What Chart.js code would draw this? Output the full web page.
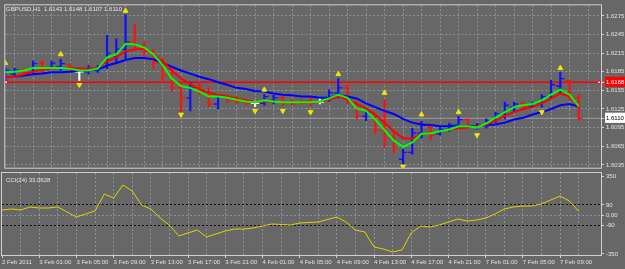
<!DOCTYPE html>
<html>
<head>
<meta charset="utf-8">
<script src="https://cdn.jsdelivr.net/npm/chart.js@4.4.1/dist/chart.umd.min.js"></script>
<style>
  body { margin: 0; background: #676767; width: 625px; height: 269px; overflow: hidden; position: relative; font-family: 'Liberation Sans', Arial, sans-serif; }
  canvas { position: absolute; left: 0; }
  #main { top: 0; }
  #cci { top: 172px; }
  .lbl { position: absolute; color: #e6e6e6; font-size: 6px; line-height: 6px; white-space: pre; }
</style>
</head>
<body>
<canvas id="main" width="625" height="173"></canvas>
<canvas id="cci" width="625" height="97"></canvas>
<div class="lbl" style="left:6px;top:6px">GBPUSD,H1  1.6143 1.6148 1.6107 1.6110</div>
<div class="lbl" style="left:6px;top:177px">CCI(24) 33.0628</div>
<script>
// time labels, one every 4 hourly bars (bar 0 = 2 Feb 21:00)
const timeLabels = ['2 Feb 2011', '3 Feb 01:00', '3 Feb 05:00', '3 Feb 09:00', '3 Feb 13:00', '3 Feb 17:00',
  '3 Feb 21:00', '4 Feb 01:00', '4 Feb 05:00', '4 Feb 09:00', '4 Feb 13:00', '4 Feb 17:00',
  '4 Feb 21:00', '7 Feb 01:00', '7 Feb 05:00', '7 Feb 09:00'];

const open = [1.6176, 1.6181, 1.6188, 1.6184, 1.6198, 1.6191, 1.6193, 1.6196, 1.6185, 1.6185,
  1.6187, 1.6193, 1.6210, 1.6221, 1.6233, 1.6227, 1.6218, 1.6199, 1.6179, 1.6159,
  1.6143, 1.6159, 1.6153, 1.6133, 1.6145, 1.6139, 1.6137, 1.6134, 1.6134, 1.6139,
  1.6143, 1.6136, 1.6136, 1.6137, 1.6136, 1.6139, 1.6151, 1.6159, 1.6136, 1.6113,
  1.6113, 1.6091, 1.6078, 1.6044, 1.6055, 1.6086, 1.6095, 1.6085, 1.6092, 1.6099,
  1.6108, 1.6095, 1.6099, 1.6106, 1.6117, 1.6128, 1.6134, 1.6129, 1.6133, 1.6145,
  1.6162, 1.6171, 1.6143];
const high = [1.6191, 1.6191, 1.6190, 1.6202, 1.6202, 1.6202, 1.6205, 1.6198, 1.6188, 1.6195,
  1.6195, 1.6244, 1.6238, 1.6277, 1.6261, 1.6233, 1.6221, 1.6207, 1.6191, 1.6167,
  1.6167, 1.6167, 1.6159, 1.6148, 1.6148, 1.6145, 1.6140, 1.6139, 1.6148, 1.6147,
  1.6145, 1.6140, 1.6140, 1.6143, 1.6142, 1.6156, 1.6174, 1.6164, 1.6137, 1.6122,
  1.6114, 1.6140, 1.6089, 1.6060, 1.6094, 1.6105, 1.6097, 1.6095, 1.6102, 1.6113,
  1.6109, 1.6102, 1.6109, 1.6120, 1.6136, 1.6136, 1.6136, 1.6136, 1.6148, 1.6171,
  1.6184, 1.6171, 1.6148];
const low = [1.6171, 1.6177, 1.6181, 1.6181, 1.6184, 1.6190, 1.6187, 1.6185, 1.6171, 1.6181,
  1.6184, 1.6190, 1.6198, 1.6205, 1.6221, 1.6208, 1.6190, 1.6171, 1.6153, 1.6120,
  1.6122, 1.6148, 1.6129, 1.6125, 1.6136, 1.6134, 1.6131, 1.6129, 1.6131, 1.6133,
  1.6131, 1.6131, 1.6133, 1.6129, 1.6133, 1.6137, 1.6143, 1.6133, 1.6109, 1.6106,
  1.6086, 1.6063, 1.6055, 1.6037, 1.6052, 1.6078, 1.6075, 1.6083, 1.6089, 1.6097,
  1.6094, 1.6092, 1.6094, 1.6103, 1.6109, 1.6120, 1.6126, 1.6128, 1.6128, 1.6143,
  1.6151, 1.6140, 1.6107];
const close = [1.6187, 1.6188, 1.6184, 1.6198, 1.6190, 1.6199, 1.6198, 1.6188, 1.6185, 1.6190,
  1.6191, 1.6215, 1.6221, 1.6233, 1.6227, 1.6218, 1.6199, 1.6179, 1.6159, 1.6143,
  1.6159, 1.6153, 1.6133, 1.6145, 1.6139, 1.6137, 1.6134, 1.6134, 1.6145, 1.6143,
  1.6134, 1.6133, 1.6134, 1.6134, 1.6136, 1.6151, 1.6159, 1.6140, 1.6114, 1.6119,
  1.6091, 1.6078, 1.6063, 1.6055, 1.6086, 1.6099, 1.6082, 1.6092, 1.6099, 1.6108,
  1.6097, 1.6099, 1.6106, 1.6117, 1.6131, 1.6133, 1.6129, 1.6134, 1.6145, 1.6164,
  1.6174, 1.6143, 1.6110];

// moving averages: fast (green), medium (red), slow (blue)
const maFast = [1.6184, 1.6185, 1.6187, 1.6191, 1.6191, 1.6191, 1.6191, 1.6190, 1.6187, 1.6187,
  1.6190, 1.6208, 1.6213, 1.6230, 1.6229, 1.6224, 1.6213, 1.6196, 1.6174, 1.6162,
  1.6159, 1.6153, 1.6145, 1.6145, 1.6143, 1.6140, 1.6137, 1.6136, 1.6139, 1.6137,
  1.6136, 1.6136, 1.6136, 1.6136, 1.6137, 1.6142, 1.6148, 1.6143, 1.6126, 1.6122,
  1.6108, 1.6091, 1.6074, 1.6064, 1.6071, 1.6085, 1.6086, 1.6089, 1.6092, 1.6097,
  1.6097, 1.6095, 1.6102, 1.6111, 1.6120, 1.6128, 1.6131, 1.6133, 1.6139, 1.6148,
  1.6156, 1.6148, 1.6129];
const maMid = [1.6176, 1.6177, 1.6181, 1.6185, 1.6188, 1.6190, 1.6191, 1.6191, 1.6190, 1.6190,
  1.6191, 1.6202, 1.6208, 1.6218, 1.6221, 1.6222, 1.6213, 1.6202, 1.6187, 1.6174,
  1.6165, 1.6157, 1.6151, 1.6148, 1.6145, 1.6142, 1.6139, 1.6137, 1.6137, 1.6137,
  1.6136, 1.6136, 1.6136, 1.6136, 1.6137, 1.6140, 1.6145, 1.6140, 1.6133, 1.6126,
  1.6116, 1.6103, 1.6089, 1.6078, 1.6077, 1.6085, 1.6086, 1.6089, 1.6092, 1.6094,
  1.6095, 1.6097, 1.6100, 1.6106, 1.6114, 1.6120, 1.6125, 1.6128, 1.6134, 1.6142,
  1.6150, 1.6145, 1.6129];
const maSlow = [1.6176, 1.6177, 1.6179, 1.6181, 1.6182, 1.6184, 1.6184, 1.6185, 1.6187, 1.6187,
  1.6188, 1.6195, 1.6199, 1.6204, 1.6207, 1.6207, 1.6205, 1.6199, 1.6193, 1.6187,
  1.6182, 1.6177, 1.6173, 1.6168, 1.6164, 1.6159, 1.6157, 1.6154, 1.6153, 1.6150,
  1.6148, 1.6147, 1.6145, 1.6145, 1.6143, 1.6143, 1.6147, 1.6145, 1.6142, 1.6134,
  1.6128, 1.6122, 1.6117, 1.6109, 1.6103, 1.6100, 1.6099, 1.6097, 1.6097, 1.6097,
  1.6097, 1.6097, 1.6099, 1.6100, 1.6103, 1.6108, 1.6111, 1.6116, 1.6120, 1.6125,
  1.6131, 1.6133, 1.6129];

// fractals
const upIdx = [0, 6, 13, 28, 36, 41, 45, 49, 60];
const upVal = [1.6199, 1.6213, 1.6283, 1.6156, 1.6181, 1.6151, 1.6116, 1.6120, 1.6191];
const dnIdx = [8, 19, 27, 30, 33, 43, 51, 58];
const dnVal = [1.6164, 1.6116, 1.6122, 1.6122, 1.6120, 1.6032, 1.6083, 1.6120];

const cci = [45, 54, 45, 72, 63, 63, 72, 27, -18, 9,
  36, 188, 152, 269, 215, 90, 54, -27, -90, -188,
  -161, -135, -197, -170, -144, -126, -126, -117, -99, -81,
  -85, -90, -72, -67, -63, -40, -18, -63, -135, -152,
  -287, -305, -332, -314, -161, -99, -108, -90, -63, -36,
  -54, -45, -27, 9, 54, 72, 81, 81, 99, 135,
  170, 126, 33.06];

const priceTicks = [1.6035, 1.6065, 1.6095, 1.6110, 1.6125, 1.6155, 1.6168, 1.6185, 1.6215, 1.6245, 1.6275];
const levelPrice = 1.6168;
const bidPrice = 1.6110;
const cciTicks = [-350, -90, 0, 90, 350];

const X_MAX = 64.4;
const gridColor = '#8a949e';
const textColor = '#e2e2e2';
const font = { family: "'Liberation Sans', Arial, sans-serif", size: 6 };

const idx = close.map((_, i) => i);
const evens = [];
for (let v = 0; v <= 64; v += 2) evens.push(v);
const barColor = idx.map(i => close[i] > open[i] ? '#1010ff' : close[i] < open[i] ? '#ff1010' : '#ffffff');

const frame = {
  id: 'frame',
  afterDraw(chart) {
    const a = chart.chartArea, ctx = chart.ctx;
    ctx.save();
    ctx.strokeStyle = '#d0d0d0';
    ctx.lineWidth = 1;
    ctx.strokeRect(a.left - 0.5, a.top - 0.5, a.right - a.left + 1, a.bottom - a.top + 1);
    ctx.restore();
  }
};

new Chart(document.getElementById('main'), {
  data: {
    datasets: [
      {
        type: 'bar', order: 6,
        data: idx.map(i => ({ x: i, y: [low[i], high[i]] })),
        backgroundColor: barColor, barThickness: 1.5, grouped: false
      },
      {
        type: 'line', order: 5, showLine: false,
        data: idx.map(i => ({ x: i - 0.25, y: open[i] })),
        pointStyle: 'line', pointRadius: 1.8, pointBorderWidth: 1.3, pointBorderColor: barColor
      },
      {
        type: 'line', order: 5, showLine: false,
        data: idx.map(i => ({ x: i + 0.25, y: close[i] })),
        pointStyle: 'line', pointRadius: 1.8, pointBorderWidth: 1.3, pointBorderColor: barColor
      },
      {
        type: 'line', order: 7,
        data: [{ x: 0, y: bidPrice }, { x: X_MAX, y: bidPrice }],
        borderColor: '#9c9c9c', borderWidth: 1, pointRadius: 0
      },
      {
        type: 'line', order: 7,
        data: [{ x: 0.1, y: levelPrice }, { x: 64.2, y: levelPrice }],
        borderColor: '#ff0000', borderWidth: 1.5,
        pointStyle: 'rect', pointRadius: 1.8, pointBackgroundColor: '#ffffff', pointBorderColor: '#ff0000', pointBorderWidth: 1
      },
      {
        type: 'line', order: 3, data: idx.map(i => ({ x: i, y: maSlow[i] })),
        borderColor: '#0000ff', borderWidth: 2, pointRadius: 0
      },
      {
        type: 'line', order: 2, data: idx.map(i => ({ x: i, y: maMid[i] })),
        borderColor: '#ff0000', borderWidth: 2, pointRadius: 0
      },
      {
        type: 'line', order: 1, data: idx.map(i => ({ x: i, y: maFast[i] })),
        borderColor: '#00ff00', borderWidth: 2, pointRadius: 0
      },
      {
        type: 'line', order: 0, showLine: false,
        data: upIdx.map((v, k) => ({ x: v, y: upVal[k] })),
        pointStyle: 'triangle', pointRadius: 2.8, backgroundColor: '#f2e600', borderColor: '#f2e600'
      },
      {
        type: 'line', order: 0, showLine: false,
        data: dnIdx.map((v, k) => ({ x: v, y: dnVal[k] })),
        pointStyle: 'triangle', rotation: 180, pointRadius: 2.8, backgroundColor: '#f2e600', borderColor: '#f2e600'
      }
    ]
  },
  options: {
    responsive: false, animation: false, devicePixelRatio: 1, events: [],
    layout: { padding: { left: 2, top: 2, right: 0, bottom: 1 } },
    plugins: { legend: { display: false }, tooltip: { enabled: false } },
    scales: {
      x: {
        type: 'linear', min: 0, max: X_MAX, offset: false,
        afterBuildTicks: s => { s.ticks = evens.map(v => ({ value: v })); },
        ticks: { display: false },
        grid: { color: c => c.tick && c.tick.value === 0 ? 'transparent' : gridColor, drawTicks: false },
        border: { display: false, dash: [2, 2] },
        afterFit: s => { s.height = 0; s.paddingLeft = 0; s.paddingRight = 0; }
      },
      y: {
        position: 'right', min: 1.60304, max: 1.62920,
        afterBuildTicks: s => { s.ticks = priceTicks.map(v => ({ value: v })); },
        ticks: {
          autoSkip: false, font: font, padding: 2,
          callback: v => v.toFixed(4),
          color: c => c.tick.value === levelPrice ? '#ffffff' : c.tick.value === bidPrice ? '#000000' : textColor,
          showLabelBackdrop: c => c.tick.value === levelPrice || c.tick.value === bidPrice,
          backdropColor: c => c.tick.value === levelPrice ? '#ff0000' : '#ffffff',
          backdropPadding: { top: 2, bottom: 1, left: 1, right: 2 }
        },
        grid: {
          color: c => c.tick && (c.tick.value === levelPrice || c.tick.value === bidPrice) ? 'transparent' : gridColor,
          tickLength: 3, tickColor: '#d0d0d0'
        },
        border: { display: false, dash: [2, 2] },
        afterFit: s => { s.width = 24; s.paddingTop = 0; s.paddingBottom = 0; }
      }
    }
  },
  plugins: [frame]
});

new Chart(document.getElementById('cci'), {
  type: 'line',
  data: {
    datasets: [{
      data: idx.map(i => ({ x: i, y: cci[i] })),
      borderColor: '#e0d400', borderWidth: 1, pointRadius: 0
    }]
  },
  options: {
    responsive: false, animation: false, devicePixelRatio: 1, events: [],
    layout: { padding: { left: 2, top: 1, right: 0, bottom: 0 } },
    plugins: { legend: { display: false }, tooltip: { enabled: false } },
    scales: {
      x: {
        type: 'linear', min: 0, max: X_MAX, offset: false,
        afterBuildTicks: s => { s.ticks = evens.map(v => ({ value: v })); },
        ticks: {
          autoSkip: false, maxRotation: 0, align: 'start', font: font, color: textColor, padding: 1,
          callback: v => v % 4 === 0 ? timeLabels[v / 4] : ''
        },
        grid: {
          color: c => c.tick && c.tick.value === 0 ? 'transparent' : gridColor,
          tickLength: 3, tickColor: c => c.tick && c.tick.value % 4 === 0 ? '#d0d0d0' : 'transparent'
        },
        border: { display: false, dash: [2, 2] },
        afterFit: s => { s.height = 14; s.paddingLeft = 0; s.paddingRight = 0; }
      },
      y: {
        position: 'right', min: -359, max: 377,
        afterBuildTicks: s => { s.ticks = cciTicks.map(v => ({ value: v })); },
        ticks: {
          autoSkip: false, font: font, color: textColor, padding: 2,
          callback: v => v === 0 ? '0.00' : String(v)
        },
        grid: {
          color: c => !c.tick ? 'transparent' : c.tick.value === 0 ? gridColor : Math.abs(c.tick.value) === 90 ? '#111111' : 'transparent',
          tickLength: 3, tickColor: '#d0d0d0'
        },
        border: { display: false, dash: [2, 2] },
        afterFit: s => { s.width = 24; s.paddingTop = 0; s.paddingBottom = 0; }
      }
    }
  },
  plugins: [frame]
});
</script>
</body>
</html>
